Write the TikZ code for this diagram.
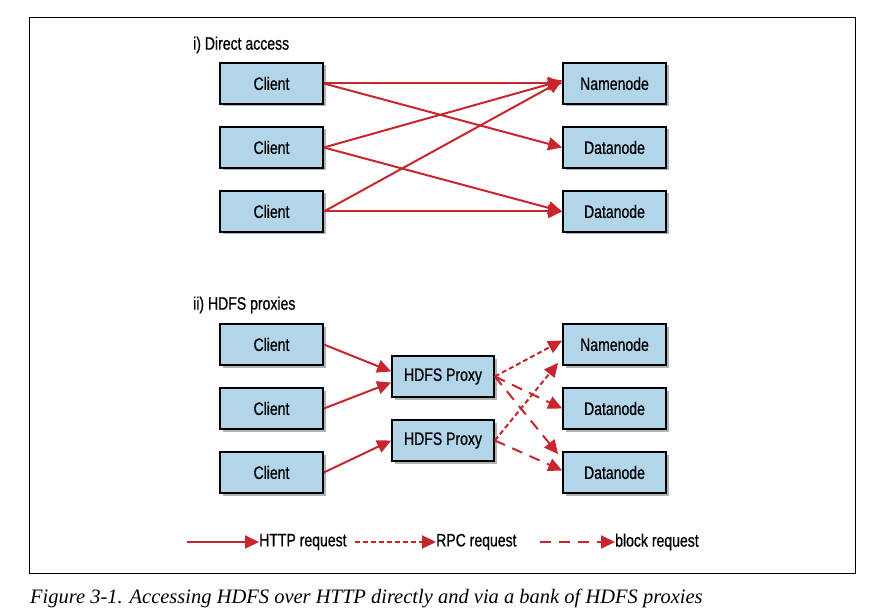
\documentclass[tikz,border=0pt]{standalone}
\usepackage{fontspec}
\setmainfont{Liberation Sans}
\newfontfamily\narrowfont[FakeStretch=0.78,FakeBold=0.6]{Liberation Sans}
\newfontfamily\capfont{Liberation Serif}
\usetikzlibrary{arrows.meta,shadows}
\definecolor{boxblue}{HTML}{B3D5EA}
\definecolor{arrred}{HTML}{C8262E}
\tikzset{
  box/.style={draw=black, line width=1.7pt, fill=boxblue, minimum width=103pt, minimum height=41pt, inner sep=0pt,
    font=\narrowfont\fontsize{18}{20}\selectfont,
    drop shadow={shadow xshift=2.5pt, shadow yshift=-2.5pt, opacity=0.6, fill=gray}},
  pbox/.style={box, minimum width=102pt},
  conn/.style={draw=arrred, line width=2pt, -{Triangle[length=14pt,width=13pt]}},
  rpc/.style={conn, dash pattern=on 5pt off 3pt},
  blk/.style={conn, dash pattern=on 11pt off 8pt},
  lbl/.style={font=\narrowfont\fontsize{18}{20}\selectfont, inner sep=0pt, anchor=west},
}
\begin{document}
\begin{tikzpicture}[x=1pt, y=-1pt]
\useasboundingbox (0,0) rectangle (880,612);
\draw[line width=1pt] (29.5,18) rectangle (855,573);

\node[lbl] (h1) at (193,45) {i) Direct access};
\node[lbl] (h2) at (193,305) {ii) HDFS proxies};

% top section
\node[box] (c1) at (271.5,83.5) {Client};
\node[box] (c2) at (271.5,147.5) {Client};
\node[box] (c3) at (271.5,211.5) {Client};
\node[box] (n1) at (614.5,83.5) {Namenode};
\node[box] (d1) at (614.5,147.5) {Datanode};
\node[box] (d2) at (614.5,211.5) {Datanode};

\draw[conn] (c1.east) -- (n1.west);
\draw[conn] (c1.east) -- (d1.west);
\draw[conn] (c2.east) -- ([yshift=3pt]n1.west);
\draw[conn] (c2.east) -- (d2.west);
\draw[conn] (c3.east) -- ([yshift=3pt]n1.west);
\draw[conn] (c3.east) -- (d2.west);

% bottom section
\node[box] (c4) at (271.5,344.5) {Client};
\node[box] (c5) at (271.5,408.5) {Client};
\node[box] (c6) at (271.5,472.5) {Client};
\node[pbox] (p1) at (443,376.5) {HDFS Proxy};
\node[pbox] (p2) at (443,440.5) {HDFS Proxy};
\node[box] (n2) at (614.5,344.5) {Namenode};
\node[box] (d3) at (614.5,408.5) {Datanode};
\node[box] (d4) at (614.5,472.5) {Datanode};

\draw[conn] (c4.east) -- ([yshift=5pt]p1.west);
\draw[conn] (c5.east) -- ([yshift=-6pt]p1.west);
\draw[conn] (c6.east) -- (p2.west);

\draw[rpc] (p1.east) -- ([yshift=4pt]n2.west);
\draw[blk] (p1.east) -- (d3.west);
\draw[blk] (p1.east) -- ([xshift=-4pt,yshift=-3pt]d4.north west);
\draw[rpc] (p2.east) -- ([xshift=-4pt,yshift=3pt]n2.south west);
\draw[blk] (p2.east) -- ([yshift=2pt]d4.west);

% legend
\coordinate (ls1) at (187,542);
\node[lbl] (lt1) at (259,542) {HTTP request};
\coordinate (ls2) at (355,542);
\node[lbl] (lt2) at (436,542) {RPC request};
\coordinate (ls3) at (540,542);
\node[lbl] (lt3) at (615,542) {block request};
\draw[conn] (ls1) -- (lt1.west);
\draw[rpc] (ls2) -- (lt2.west);
\draw[blk] (ls3) -- (lt3.west);

% caption
\node[anchor=base west, inner sep=0pt, font=\capfont\itshape\fontsize{20.5}{22}\selectfont] (cap) at (30,603) {Figure 3-1. Accessing HDFS over HTTP directly and via a bank of HDFS proxies};
\end{tikzpicture}
\end{document}
